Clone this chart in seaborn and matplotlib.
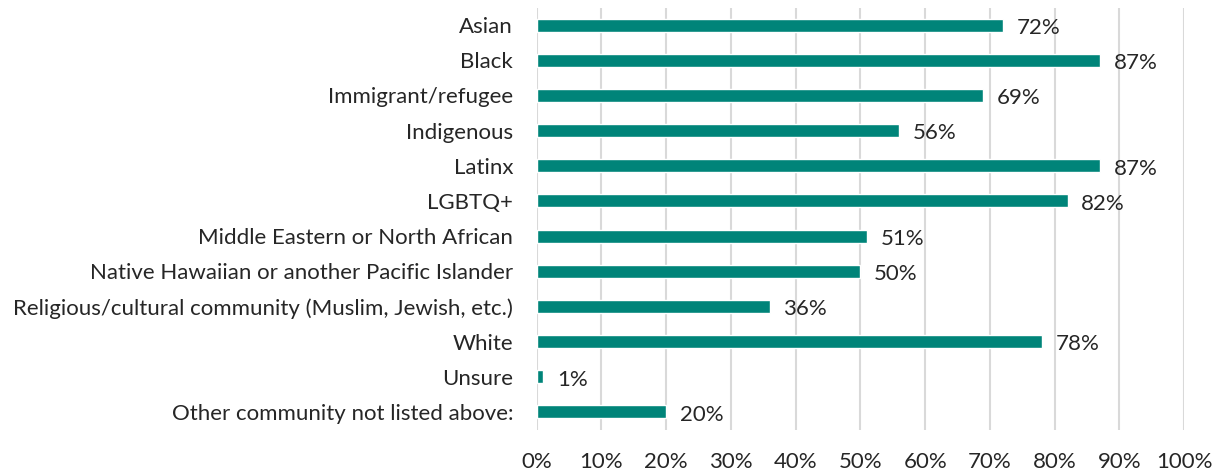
import pandas as pd
import matplotlib.pyplot as plt
import seaborn as sns

# Data
communities = [
    "Asian",
    "Black",
    "Immigrant/refugee",
    "Indigenous",
    "Latinx",
    "LGBTQ+",
    "Middle Eastern or North African",
    "Native Hawaiian or another Pacific Islander",
    "Religious/cultural community (Muslim, Jewish, etc.)",
    "White",
    "Unsure",
    "Other community not listed above:",
]
shares = [72, 87, 69, 56, 87, 82, 51, 50, 36, 78, 1, 20]
x_ticks = [0, 10, 20, 30, 40, 50, 60, 70, 80, 90, 100]

df = pd.DataFrame({"community": communities, "share": shares})

sns.set_theme(style="white")
plt.rcParams["font.family"] = ["Lato", "DejaVu Sans"]

fig = plt.figure(figsize=(12.17, 4.72), dpi=100)
ax = fig.add_axes([0.441, 0.090, 0.532, 0.894])

sns.barplot(data=df, x="share", y="community", color="#008479",
            width=0.37, saturation=1, ax=ax)

for i, v in enumerate(shares):
    ax.text(v + 2.1, i + 0.08, f"{v}%", va="center", ha="left",
            fontsize=16, color="#262626")

ax.set_xlim(0, 100)
ax.set_xticks(x_ticks)
ax.set_xticklabels([f"{t}%" for t in x_ticks])
ax.xaxis.grid(True, color="#D9D9D9", linewidth=1.5)
ax.set_axisbelow(True)
for s in ax.spines.values():
    s.set_visible(False)
ax.tick_params(axis="x", labelsize=16, pad=16, length=0, colors="#262626")
ax.tick_params(axis="y", labelsize=16, pad=17, length=0, colors="#262626")
ax.set_xlabel("")
ax.set_ylabel("")

plt.savefig("out.png", dpi=100)
